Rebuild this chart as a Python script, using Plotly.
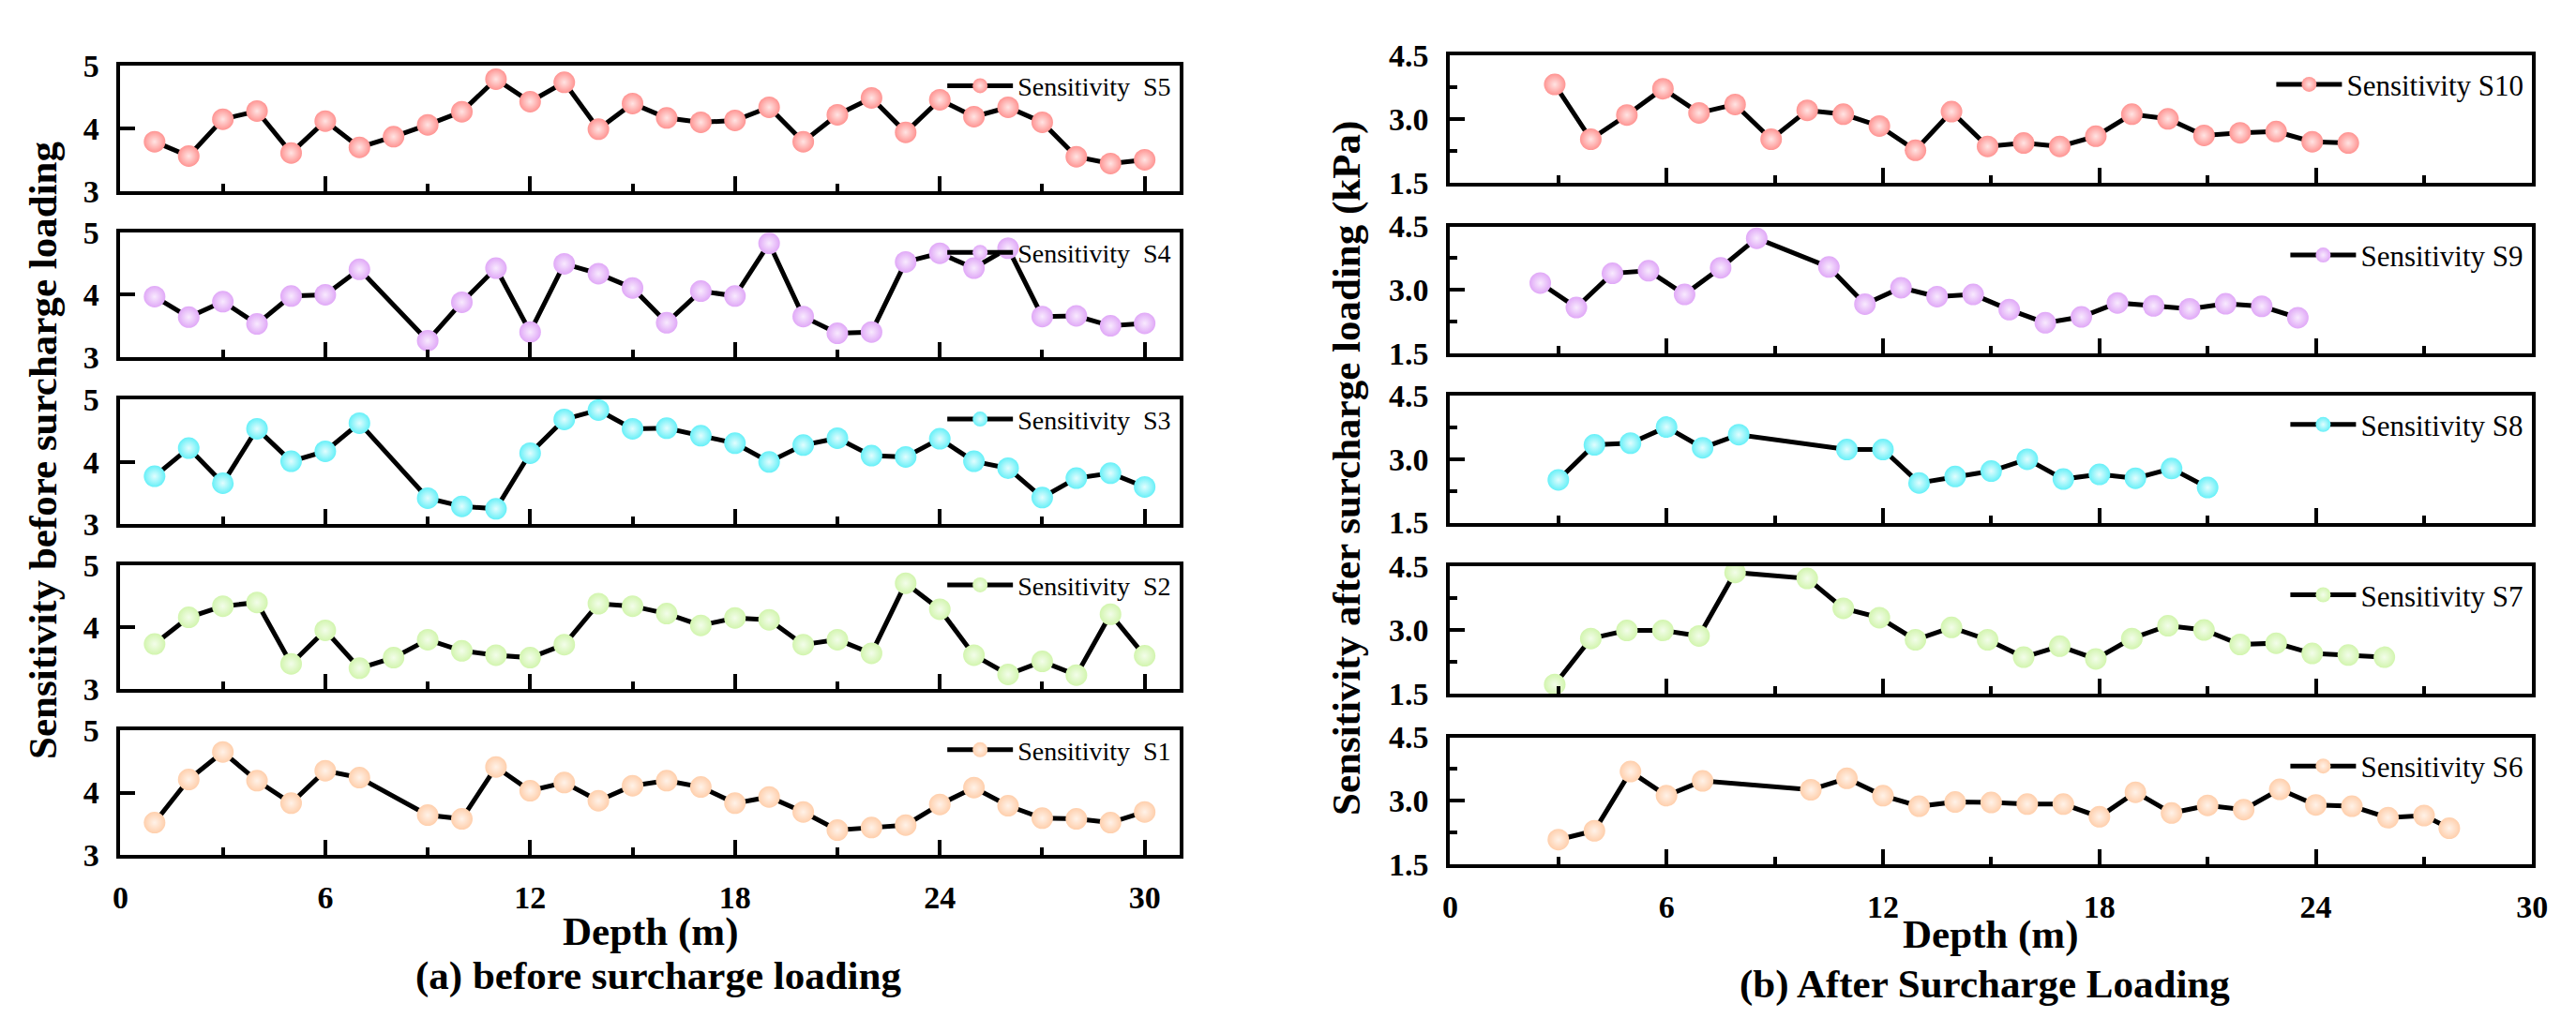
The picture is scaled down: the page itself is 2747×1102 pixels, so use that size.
import plotly.graph_objects as go

W, H = 2747, 1102

# ---- data: (a) before surcharge loading ----
depth_full = [1, 2, 3, 4, 5, 6, 7, 8, 9, 10, 11, 12, 13, 14, 15, 16, 17, 18, 19, 20,
              21, 22, 23, 24, 25, 26, 27, 28, 29, 30]
depth_gap = [1, 2, 3, 4, 5, 6, 7, 9, 10, 11, 12, 13, 14, 15, 16, 17, 18, 19, 20,
             21, 22, 23, 24, 25, 26, 27, 28, 29, 30]

s5 = [3.79, 3.56, 4.15, 4.28, 3.61, 4.12, 3.70, 3.87, 4.06, 4.27, 4.79, 4.43, 4.74, 3.99, 4.40,
      4.17, 4.10, 4.13, 4.34, 3.79, 4.22, 4.49, 3.94, 4.46, 4.19, 4.34, 4.10, 3.55, 3.44, 3.50]
s4 = [3.97, 3.64, 3.89, 3.53, 3.98, 4.00, 4.41, 3.26, 3.88, 4.43, 3.40, 4.50, 4.34, 4.11, 3.55,
      4.06, 3.98, 4.83, 3.65, 3.38, 3.40, 4.53, 4.67, 4.43, 4.75, 3.65, 3.66, 3.50, 3.54]
s3 = [3.77, 4.22, 3.66, 4.53, 4.01, 4.17, 4.62, 3.42, 3.29, 3.25, 4.14, 4.68, 4.83, 4.53, 4.54,
      4.42, 4.30, 4.00, 4.27, 4.38, 4.10, 4.08, 4.37, 4.01, 3.90, 3.43, 3.74, 3.82, 3.60]
s2 = [3.73, 4.16, 4.34, 4.40, 3.41, 3.95, 3.34, 3.51, 3.80, 3.62, 3.55, 3.51, 3.72, 4.38, 4.34,
      4.22, 4.03, 4.15, 4.12, 3.72, 3.80, 3.58, 4.71, 4.29, 3.55, 3.24, 3.45, 3.23, 4.21, 3.54]
s1 = [3.52, 4.21, 4.65, 4.19, 3.83, 4.35, 4.24, 3.64, 3.58, 4.41, 4.03, 4.16, 3.87, 4.11, 4.19,
      4.09, 3.83, 3.93, 3.69, 3.40, 3.44, 3.48, 3.81, 4.08, 3.79, 3.59, 3.58, 3.52, 3.69]

# ---- data: (b) after surcharge loading ----
depth_s10 = [2.9, 3.9, 4.9, 5.9, 6.9, 7.9, 8.9, 9.9, 10.9, 11.9, 12.9, 13.9, 14.9, 15.9, 16.9,
             17.9, 18.9, 19.9, 20.9, 21.9, 22.9, 23.9, 24.9]
s10 = [3.82, 2.53, 3.10, 3.72, 3.15, 3.35, 2.53, 3.21, 3.12, 2.84, 2.27, 3.18, 2.36, 2.44, 2.36,
       2.60, 3.12, 3.01, 2.62, 2.68, 2.71, 2.47, 2.44]
depth_s9 = [2.5, 3.5, 4.5, 5.5, 6.5, 7.5, 8.5, 10.5, 11.5, 12.5, 13.5, 14.5, 15.5, 16.5, 17.5,
            18.5, 19.5, 20.5, 21.5, 22.5, 23.5]
s9 = [3.16, 2.58, 3.39, 3.45, 2.89, 3.52, 4.22, 3.54, 2.66, 3.05, 2.84, 2.89, 2.53, 2.22, 2.36,
      2.69, 2.62, 2.55, 2.67, 2.61, 2.34]
depth_s8 = [3, 4, 5, 6, 7, 8, 11, 12, 13, 14, 15, 16, 17, 18, 19, 20, 21]
s8 = [2.51, 3.34, 3.38, 3.76, 3.27, 3.58, 3.23, 3.23, 2.44, 2.59, 2.72, 3.00, 2.53, 2.64, 2.55,
      2.78, 2.33]
depth_s7 = [2.9, 3.9, 4.9, 5.9, 6.9, 7.9, 9.9, 10.9, 11.9, 12.9, 13.9, 14.9, 15.9, 16.9, 17.9,
            18.9, 19.9, 20.9, 21.9, 22.9, 23.9, 24.9, 25.9]
s7 = [1.72, 2.80, 2.99, 2.99, 2.86, 4.35, 4.21, 3.51, 3.29, 2.77, 3.06, 2.77, 2.36, 2.62, 2.32,
      2.80, 3.10, 3.00, 2.66, 2.69, 2.45, 2.41, 2.36]
depth_s6 = [3, 4, 5, 6, 7, 10, 11, 12, 13, 14, 15, 16, 17, 18, 19, 20, 21, 22, 23, 24, 25, 26,
            27, 27.7]
s6 = [2.08, 2.29, 3.69, 3.12, 3.47, 3.26, 3.53, 3.12, 2.87, 2.97, 2.96, 2.92, 2.92, 2.62, 3.20,
      2.71, 2.89, 2.79, 3.27, 2.90, 2.87, 2.60, 2.65, 2.35]

colors = ["#FF9492", "#E0A8F7", "#66F0F8", "#D2F5AE", "#FFCFAC"]
highlights = ["#FFE4E3", "#F8EAFE", "#E2FDFE", "#F3FDEA", "#FFF2E8"]

left_series = [("Sensitivity\u00a0 S5", depth_full, s5), ("Sensitivity\u00a0 S4", depth_gap, s4),
               ("Sensitivity\u00a0 S3", depth_gap, s3), ("Sensitivity\u00a0 S2", depth_full, s2),
               ("Sensitivity\u00a0 S1", depth_gap, s1)]
right_series = [("Sensitivity S10", depth_s10, s10), ("Sensitivity S9", depth_s9, s9),
                ("Sensitivity S8", depth_s8, s8), ("Sensitivity S7", depth_s7, s7),
                ("Sensitivity S6", depth_s6, s6)]

# panel frames in pixels (top, bottom)
left_rows = [(46, 184), (230, 367), (414, 552), (597, 734), (779, 917)]
right_rows = [(34.5, 175), (223, 363), (410, 550), (598, 739), (787, 927)]
left_x = (112.5, 1253)
right_x = (1544, 2709)

FONT = "Times New Roman, Liberation Serif, DejaVu Serif, serif"

fig = go.Figure()


def add_panel(i, name, xs, ys, k, xpx, rows, xrange, yaxis_kw, legend_font, first_col):
    idx = i + 1
    sfx = "" if idx == 1 else str(idx)
    top, bot = rows[k]
    legend_id = "legend" + sfx
    fig.add_trace(go.Scatter(
        x=xs, y=ys, mode="lines+markers", name=name,
        xaxis="x" + sfx, yaxis="y" + sfx, legend=legend_id,
        line=dict(color="black", width=5),
        marker=dict(size=23, color=colors[k], line=dict(width=0),
                    gradient=dict(type="radial", color=highlights[k])),
    ))
    bottom_panel = k == 4
    fig.layout["xaxis" + sfx] = dict(
        domain=[xpx[0] / W, xpx[1] / W], anchor="y" + sfx, range=xrange,
        tick0=0, dtick=6, ticks="inside", ticklen=16, tickwidth=3.5, tickcolor="black",
        minor=dict(dtick=3, tick0=0, ticks="inside", ticklen=8, tickwidth=3.5, tickcolor="black"),
        showline=True, mirror=True, linewidth=4, linecolor="black",
        showgrid=False, zeroline=False, showticklabels=bottom_panel,
        ticklabelstandoff=12,
        tickfont=dict(family=FONT, size=34, color="black", weight="bold"),
    )
    ykw = dict(
        domain=[1 - bot / H, 1 - top / H], anchor="x" + sfx,
        ticks="inside", ticklen=16, tickwidth=3.5, tickcolor="black",
        showline=True, mirror=True, linewidth=4, linecolor="black",
        showgrid=False, zeroline=False, ticklabelstandoff=12,
        tickfont=dict(family=FONT, size=34, color="black", weight="bold"),
    )
    ykw.update(yaxis_kw)
    fig.layout["yaxis" + sfx] = ykw
    fig.layout[legend_id] = dict(
        x=(xpx[1] - 4) / W, xanchor="right",
        y=1 - (top + (22 if first_col else 32)) / H, yanchor="middle",
        bgcolor="rgba(0,0,0,0)", borderwidth=0, itemwidth=70,
        font=dict(family=FONT, size=legend_font, color="black"),
    )


left_y = dict(range=[3, 5], tickvals=[3, 4, 5], ticktext=["3", "4", "5"])
right_y = dict(range=[1.5, 4.5], tickvals=[1.5, 3.0, 4.5], ticktext=["1.5", "3.0", "4.5"],
               minor=dict(tickvals=[2.25, 3.75], ticks="inside", ticklen=8, tickwidth=3.5,
                          tickcolor="black"))

for k, (name, xs, ys) in enumerate(left_series):
    add_panel(k, name, xs, ys, k, left_x, left_rows, [0, 31.03], left_y, 28, True)
for k, (name, xs, ys) in enumerate(right_series):
    add_panel(k + 5, name, xs, ys, k, right_x, right_rows, [0, 30], right_y, 31, False)

title_font = dict(family=FONT, size=43, color="black", weight="bold")
notes = [
    dict(text="Sensitivity before surcharge loading", x=28, y=470, textangle=-90),
    dict(text="Sensitivity after surcharge loading (kPa)", x=1432, y=490, textangle=-90),
    dict(text="Depth (m)", x=683, y=1002, textangle=0),
    dict(text="Depth (m)", x=2126, y=1005, textangle=0),
    dict(text="(a) before surcharge loading", x=692, y=1050, textangle=0),
    dict(text="(b) After Surcharge Loading", x=2120, y=1060, textangle=0),
]
for n in notes:
    fig.add_annotation(text=n["text"], x=n["x"] / W, y=1 - n["y"] / H, xref="paper", yref="paper",
                       xanchor="center", yanchor="middle", showarrow=False,
                       textangle=n["textangle"], font=title_font)

fig.update_layout(
    width=W, height=H,
    margin=dict(l=0, r=0, t=0, b=0),
    paper_bgcolor="white", plot_bgcolor="white",
    font=dict(family=FONT),
    showlegend=True,
)

fig.write_html("out.html")
